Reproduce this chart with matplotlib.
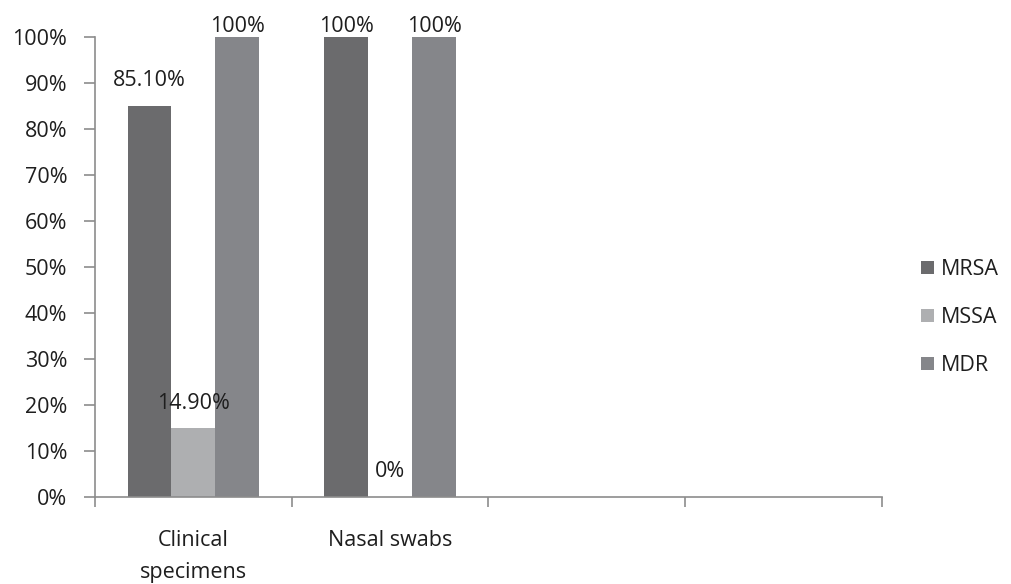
import matplotlib.pyplot as plt
import numpy as np

plt.rcParams['font.family'] = ['Open Sans', 'DejaVu Sans']

categories = ["Clinical\nspecimens", "Nasal swabs", "", ""]
series = ["MRSA", "MSSA", "MDR"]
mrsa = [85.1, 100, None, None]
mssa = [14.9, 0, None, None]
mdr = [100, 100, None, None]
labels = [["85.10%", "100%"], ["14.90%", "0%"], ["100%", "100%"]]
colors = ["#6b6b6d", "#aeafb1", "#85868a"]

fs = 15.5
txt = "#1e1e1e"

fig = plt.figure(figsize=(10.12, 5.84), dpi=100)
ax = fig.add_axes([0.0939, 0.149, 0.7776, 0.7877])

x = np.arange(len(categories))
w = 0.223
for i, (name, vals) in enumerate(zip(series, [mrsa, mssa, mdr])):
    xs = [xi + (i - 1) * w for xi, v in zip(x, vals) if v is not None]
    vs = [v for v in vals if v is not None]
    ax.bar(xs, vs, width=w, color=colors[i], label=name)
    for xi, v, lab in zip(xs, vs, labels[i]):
        ax.text(xi, min(v + 3.2, 100.0), lab, ha="center", va="bottom",
                fontsize=fs, color=txt)

ax.set_xlim(-0.5, len(categories) - 0.5)
ax.set_ylim(0, 100)
ax.set_yticks(np.arange(0, 101, 10))
ax.set_yticklabels([f"{t}%" for t in range(0, 101, 10)])
ax.set_xticks(x)
ax.set_xticklabels(categories, linespacing=1.65)
ax.set_xticks(np.arange(-0.5, len(categories), 1), minor=True)

for s in ["top", "right"]:
    ax.spines[s].set_visible(False)
for s in ["left", "bottom"]:
    ax.spines[s].set_color("#8c8c8c")
    ax.spines[s].set_linewidth(1.2)

ax.tick_params(axis="y", length=8, width=1.2, color="#8c8c8c", pad=12,
               labelsize=fs, labelcolor=txt)
ax.tick_params(axis="x", which="major", length=0, pad=24,
               labelsize=fs, labelcolor=txt)
ax.tick_params(axis="x", which="minor", length=7, width=1.2, color="#8c8c8c")

ax.legend(loc="center left", bbox_to_anchor=(1.025, 0.39), frameon=False,
          handlelength=0.6, handleheight=0.6, handletextpad=0.3,
          labelspacing=1.25, fontsize=fs, labelcolor=txt)

fig.savefig("out.png", dpi=100)
